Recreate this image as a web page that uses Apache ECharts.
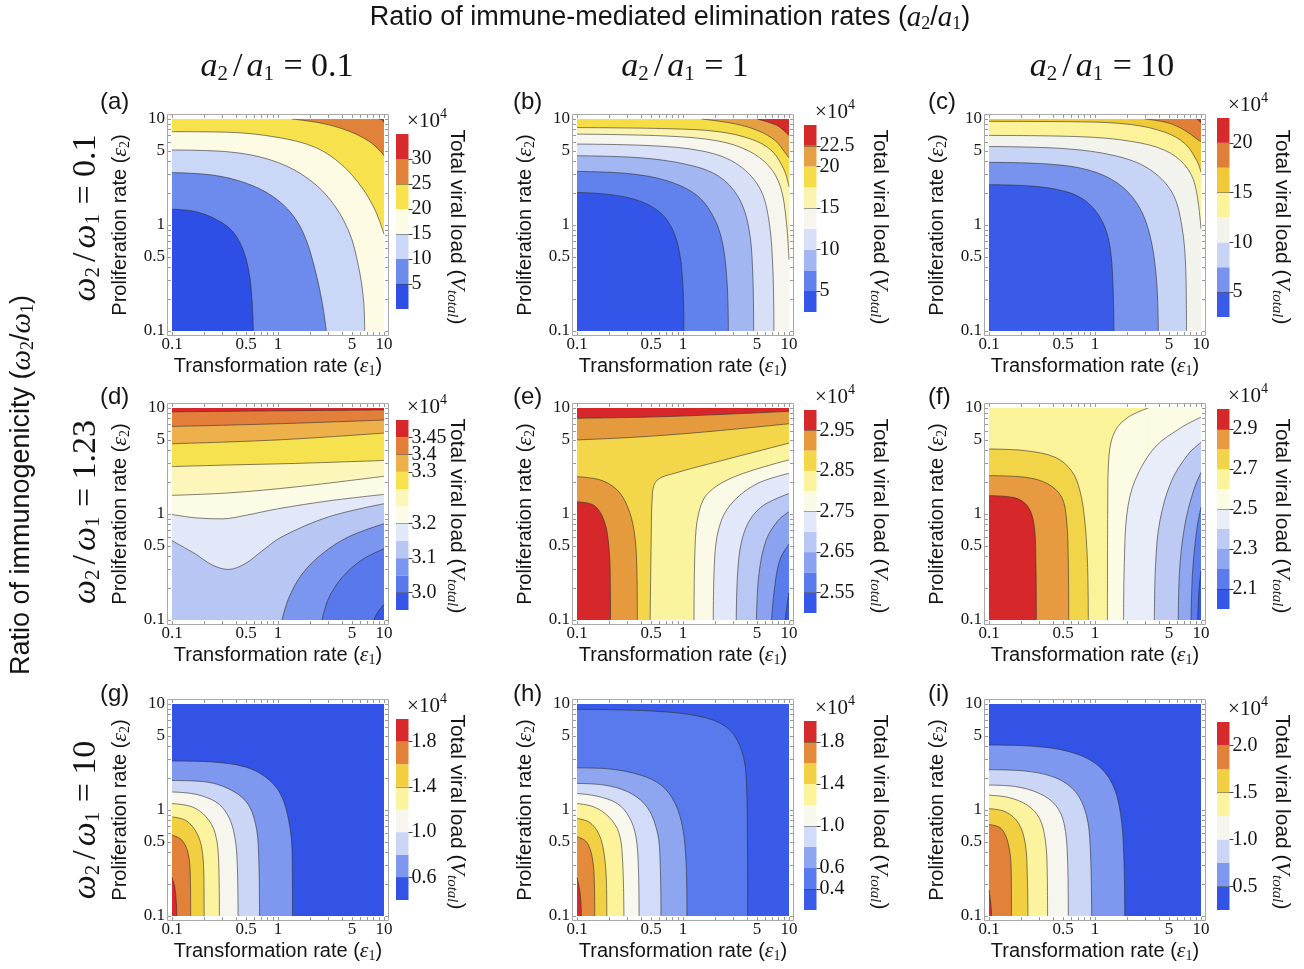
<!DOCTYPE html>
<html>
<head>
<meta charset="utf-8">
<script src="https://cdn.jsdelivr.net/npm/echarts@6/dist/echarts.min.js"></script>
<style>
html,body{margin:0;padding:0;background:#fff;}
#chart{width:1304px;height:969px;}
</style>
</head>
<body>
<div id="chart"></div>
<script>
// ticks of the log axes (both axes run 0.1 .. 10)
var majorTicks = [0.1, 0.5, 1, 5, 10];
var minorTicks = [0.1,0.2,0.3,0.4,0.5,0.6,0.7,0.8,0.9,1,2,3,4,5,6,7,8,9,10];

// contour entries: [level index, 'lo' (paints band under the level) / 'hi' (band over it),
//                   fill direction, points [eps1, eps2], optional corner points for fill only]

// (a) a2/a1 = 0.1, w2/w1 = 0.1
var levelsA = [5, 10, 15, 20, 25, 30];
var cbLabelsA = ['5', '10', '15', '20', '25', '30'];
var contoursA = [
    [0, 'lo', 'down', [[0.1,1.41],[0.166,1.34],[0.26,1.13],[0.37,0.88],[0.46,0.61],[0.53,0.37],[0.57,0.19],[0.585,0.1]]],
    [1, 'lo', 'down', [[0.1,3.12],[0.24,2.96],[0.49,2.5],[0.88,1.88],[1.36,1.26],[1.81,0.76],[2.25,0.37],[2.6,0.19],[2.86,0.1]]],
    [2, 'lo', 'down', [[0.1,5.1],[0.34,4.9],[0.82,4.16],[1.68,3.0],[3.0,1.81],[4.64,0.88],[5.77,0.4],[6.43,0.19],[6.57,0.1]]],
    [3, 'lo', 'down', [[0.1,7.6],[0.34,7.5],[1.0,6.7],[2.25,5.4],[4.0,3.7],[6.2,2.25],[8.3,1.36],[10,0.82]]],
    [4, 'hi', 'up', [[1.36,10],[2.6,9.1],[4.64,7.7],[7.16,6.2],[9.2,5.0],[10,4.5]]],
    [5, 'hi', 'up', [[9.0,10],[9.6,9.8],[10,9.3]]]
];

// (b) a2/a1 = 1, w2/w1 = 0.1
var levelsB = [5, 7.5, 10, 12.5, 15, 17.5, 20, 22.5];
var cbLabelsB = ['5', '10', '15', '20', '22.5'];
var contoursB = [
    [0, 'lo', 'down', [[0.1,2.03],[0.21,1.93],[0.4,1.67],[0.62,1.29],[0.8,0.9],[0.93,0.54],[1.0,0.26],[1.02,0.1]]],
    [1, 'lo', 'down', [[0.1,3.2],[0.3,3.06],[0.72,2.6],[1.39,1.86],[2.0,1.12],[2.4,0.62],[2.62,0.26],[2.68,0.1]]],
    [2, 'lo', 'down', [[0.1,4.5],[0.4,4.3],[1.12,3.7],[2.15,2.9],[3.3,1.86],[4.16,0.96],[4.54,0.37],[4.64,0.1]]],
    [3, 'lo', 'down', [[0.1,5.8],[0.5,5.6],[1.5,5.0],[3.1,3.86],[5.2,2.3],[6.45,1.12],[7.05,0.37],[7.2,0.1]]],
    [4, 'lo', 'down', [[0.1,7.2],[0.72,6.9],[2.15,6.2],[4.16,5.0],[6.45,3.6],[8.3,2.3],[9.4,1.12],[10,0.47]]],
    [5, 'lo', 'down', [[0.1,8.3],[0.72,8.1],[2.15,7.6],[4.5,6.4],[6.9,5.0],[9.0,3.3],[10,2.3]]],
    [6, 'hi', 'up', [[1.5,10],[3.1,9.0],[5.2,7.7],[7.5,6.2],[9.2,4.8],[10,4.3]]],
    [7, 'hi', 'up', [[5.0,10],[6.45,9.3],[8.0,8.5],[10,7.0]]]
];

// (c) a2/a1 = 10, w2/w1 = 0.1
var levelsC = [5, 7.5, 10, 12.5, 15, 17.5, 20];
var cbLabelsC = ['5', '10', '15', '20'];
var contoursC = [
    [0, 'lo', 'down', [[0.1,2.4],[0.25,2.33],[0.52,2.08],[0.8,1.71],[1.11,1.19],[1.34,0.74],[1.46,0.36],[1.51,0.1]]],
    [1, 'lo', 'down', [[0.1,3.9],[0.36,3.76],[0.87,3.3],[1.66,2.45],[2.56,1.53],[3.3,0.8],[3.8,0.31],[3.96,0.1]]],
    [2, 'lo', 'down', [[0.1,5.5],[0.52,5.25],[1.55,4.5],[3.2,3.4],[5.3,2.05],[6.57,1.0],[7.2,0.36],[7.3,0.1]]],
    [3, 'lo', 'down', [[0.1,7.0],[0.75,6.8],[2.2,6.15],[4.57,5.06],[7.06,3.66],[8.8,2.37],[10,0.92]]],
    [4, 'lo', 'down', [[0.1,9.5],[0.75,9.4],[2.2,8.85],[4.57,7.5],[7.06,5.85],[9.1,4.07],[10,3.16]]],
    [5, 'hi', 'up', [[2.96,10],[4.9,9.2],[7.06,7.8],[9.1,6.5],[10,6.1]]],
    [6, 'hi', 'up', [[9.1,10],[9.5,9.7],[10,9.2]]]
];

// (d) a2/a1 = 0.1, w2/w1 = 1.23
var levelsD = [3.0, 3.05, 3.1, 3.15, 3.2, 3.23, 3.27, 3.3, 3.4, 3.45];
var cbLabelsD = ['3.0', '3.1', '3.2', '3.3', '3.4', '3.45'];
var contoursD = [
    [0, 'lo', 'down', [[8.0,0.1],[8.8,0.12],[10,0.14]]],
    [1, 'lo', 'down', [[2.6,0.1],[3.0,0.16],[4.0,0.25],[6.2,0.37],[10,0.47]]],
    [2, 'lo', 'down', [[1.09,0.1],[1.26,0.16],[1.68,0.27],[2.6,0.42],[4.64,0.61],[10,0.81]]],
    [3, 'lo', 'down', [[0.1,0.56],[0.166,0.42],[0.24,0.33],[0.34,0.3],[0.49,0.34],[0.71,0.45],[1.09,0.61],[3.0,0.94],[10,1.25]]],
    [4, 'lo', 'down', [[0.1,0.99],[0.166,0.92],[0.3,0.9],[0.49,0.97],[1.0,1.12],[3.0,1.33],[10,1.53]]],
    [5, 'lo', 'down', [[0.1,1.5],[0.34,1.58],[1.46,1.8],[10,2.27]]],
    [6, 'lo', 'down', [[0.1,2.8],[0.34,2.9],[1.46,3.0],[10,3.2]]],
    [7, 'lo', 'down', [[0.1,4.6],[1.0,5.0],[10,5.8]]],
    [8, 'lo', 'down', [[0.1,6.7],[1.0,7.1],[10,7.7]]],
    [9, 'lo', 'down', [[0.1,9.2],[1.0,9.4],[10,9.6]]]
];

// (e) a2/a1 = 1, w2/w1 = 1.23
var levelsE = [2.55, 2.6, 2.65, 2.7, 2.75, 2.8, 2.85, 2.9, 2.95];
var cbLabelsE = ['2.55', '2.65', '2.75', '2.85', '2.95'];
var contoursE = [
    [7, 'hi', 'up', [[0.1,5.0],[0.35,5.3],[1.48,5.9],[10,7.1]]],
    [7, 'hi', 'down', [[0.1,2.25],[0.167,2.09],[0.24,1.68],[0.3,1.17],[0.345,0.7],[0.366,0.34],[0.371,0.1]]],
    [8, 'hi', 'up', [[0.1,8.0],[0.72,8.3],[10,9.3]]],
    [8, 'hi', 'down', [[0.1,1.3],[0.144,1.21],[0.18,0.87],[0.2,0.49],[0.206,0.24],[0.207,0.1]]],
    [6, 'lo', 'down', [[0.49,0.1],[0.5,0.49],[0.515,1.56],[0.57,2.09],[0.83,2.42],[2.13,3.12],[10,4.66]]],
    [5, 'lo', 'down', [[1.27,0.1],[1.3,0.49],[1.4,1.0],[1.71,1.56],[3.07,2.25],[10,3.24]]],
    [4, 'lo', 'down', [[1.93,0.1],[2.0,0.42],[2.3,0.87],[3.07,1.35],[5.1,1.95],[10,2.42]]],
    [3, 'lo', 'down', [[3.18,0.1],[3.35,0.37],[3.96,0.76],[5.5,1.17],[10,1.56]]],
    [2, 'lo', 'down', [[4.93,0.1],[5.2,0.27],[6.1,0.57],[7.9,0.87],[10,1.05]]],
    [1, 'lo', 'down', [[6.84,0.1],[7.3,0.2],[8.2,0.37],[10,0.52]]],
    [0, 'lo', 'down', [[9.2,0.1],[9.6,0.14],[10,0.18]]]
];

// (f) a2/a1 = 10, w2/w1 = 1.23
var levelsF = [2.1, 2.2, 2.3, 2.4, 2.5, 2.6, 2.7, 2.8, 2.9];
var cbLabelsF = ['2.1', '2.3', '2.5', '2.7', '2.9'];
var contoursF = [
    [6, 'hi', 'down', [[0.1,4.1],[0.22,3.96],[0.42,3.43],[0.6,2.56],[0.72,1.66],[0.8,0.87],[0.85,0.34],[0.865,0.1]]],
    [7, 'hi', 'down', [[0.1,2.3],[0.22,2.22],[0.36,1.92],[0.485,1.44],[0.54,0.87],[0.56,0.34],[0.565,0.1]]],
    [8, 'hi', 'down', [[0.1,1.49],[0.176,1.42],[0.235,1.16],[0.268,0.75],[0.277,0.34],[0.28,0.1]]],
    [5, 'lo', 'down', [[1.31,0.1],[1.32,1.44],[1.36,3.68],[1.55,6.1],[2.06,8.2],[3.18,10]], [[10,10]]],
    [4, 'lo', 'down', [[1.86,0.1],[1.89,0.34],[2.0,1.0],[2.38,2.06],[3.68,4.26],[6.57,6.57],[10,8.2]]],
    [3, 'lo', 'down', [[3.63,0.1],[3.73,0.34],[4.1,0.87],[5.28,2.06],[7.6,3.68],[10,4.74]]],
    [2, 'lo', 'down', [[6.1,0.1],[6.3,0.31],[7.06,0.8],[8.5,1.66],[10,2.47]]],
    [1, 'lo', 'down', [[8.05,0.1],[8.3,0.27],[9.1,0.7],[10,1.16]]],
    [0, 'lo', 'down', [[9.3,0.1],[9.6,0.2],[10,0.29]]]
];

// (g) a2/a1 = 0.1, w2/w1 = 10
var levelsG = [0.6, 0.8, 1.0, 1.2, 1.4, 1.6, 1.8];
var cbLabelsG = ['0.6', '1.0', '1.4', '1.8'];
var contoursG = [
    [0, 'hi', 'down', [[0.1,2.9],[0.24,2.84],[0.49,2.55],[0.76,2.05],[1.05,1.43],[1.26,0.8],[1.36,0.39],[1.37,0.1]]],
    [1, 'hi', 'down', [[0.1,1.9],[0.21,1.84],[0.34,1.59],[0.49,1.23],[0.59,0.86],[0.65,0.48],[0.67,0.1]]],
    [2, 'hi', 'down', [[0.1,1.48],[0.166,1.41],[0.26,1.19],[0.33,0.92],[0.38,0.64],[0.41,0.36],[0.42,0.1]]],
    [3, 'hi', 'down', [[0.1,1.15],[0.155,1.07],[0.21,0.86],[0.256,0.6],[0.276,0.31],[0.28,0.1]]],
    [4, 'hi', 'down', [[0.1,0.86],[0.134,0.8],[0.166,0.64],[0.19,0.45],[0.2,0.23],[0.201,0.1]]],
    [5, 'hi', 'down', [[0.1,0.58],[0.124,0.52],[0.142,0.39],[0.149,0.23],[0.15,0.1]]],
    [6, 'hi', 'down', [[0.1,0.23],[0.106,0.19],[0.11,0.13],[0.111,0.1]]]
];

// (h) a2/a1 = 1, w2/w1 = 10
var levelsH = [0.4, 0.6, 0.8, 1.0, 1.2, 1.4, 1.6, 1.8];
var cbLabelsH = ['0.4', '0.6', '1.0', '1.4', '1.8'];
var contoursH = [
    [0, 'hi', 'down', [[0.1,8.9],[0.5,8.6],[1.48,7.6],[2.65,5.9],[3.56,3.67],[3.96,1.91],[4.05,0.56],[4.08,0.1]]],
    [1, 'hi', 'down', [[0.1,2.5],[0.21,2.43],[0.4,2.13],[0.62,1.72],[0.83,1.19],[0.99,0.69],[1.07,0.31],[1.09,0.1]]],
    [2, 'hi', 'down', [[0.1,1.78],[0.18,1.72],[0.3,1.49],[0.43,1.15],[0.53,0.8],[0.6,0.45],[0.62,0.1]]],
    [3, 'hi', 'down', [[0.1,1.43],[0.155,1.35],[0.24,1.15],[0.31,0.86],[0.36,0.56],[0.38,0.27],[0.385,0.1]]],
    [4, 'hi', 'down', [[0.1,1.15],[0.144,1.07],[0.2,0.86],[0.25,0.6],[0.27,0.31],[0.277,0.1]]],
    [5, 'hi', 'down', [[0.1,0.83],[0.13,0.77],[0.16,0.6],[0.18,0.39],[0.19,0.19],[0.191,0.1]]],
    [6, 'hi', 'down', [[0.1,0.56],[0.123,0.5],[0.139,0.36],[0.146,0.2],[0.147,0.1]]],
    [7, 'hi', 'down', [[0.1,0.23],[0.106,0.175],[0.109,0.13],[0.11,0.1]]]
];

// (i) a2/a1 = 10, w2/w1 = 10
var levelsI = [0.5, 0.75, 1.0, 1.25, 1.5, 1.75, 2.0];
var cbLabelsI = ['0.5', '1.0', '1.5', '2.0'];
var contoursI = [
    [0, 'hi', 'down', [[0.1,4.1],[0.256,4.0],[0.57,3.55],[1.01,2.75],[1.45,1.78],[1.74,0.93],[1.87,0.36],[1.91,0.1]]],
    [1, 'hi', 'down', [[0.1,2.4],[0.21,2.34],[0.4,2.06],[0.61,1.6],[0.785,1.07],[0.89,0.56],[0.93,0.1]]],
    [2, 'hi', 'down', [[0.1,1.72],[0.18,1.66],[0.3,1.43],[0.425,1.11],[0.51,0.75],[0.55,0.36],[0.56,0.1]]],
    [3, 'hi', 'down', [[0.1,1.38],[0.154,1.31],[0.23,1.11],[0.3,0.83],[0.34,0.52],[0.354,0.27],[0.357,0.1]]],
    [4, 'hi', 'down', [[0.1,1.03],[0.144,0.96],[0.19,0.75],[0.22,0.48],[0.23,0.23],[0.233,0.1]]],
    [5, 'hi', 'down', [[0.1,0.73],[0.13,0.67],[0.152,0.48],[0.162,0.27],[0.163,0.1]]],
    [6, 'hi', 'down', [[0.1,0.175],[0.104,0.13],[0.106,0.1]]]
];

var colTitles = ['0.1', '1', '10'];
var rowTitles = ['0.1', '1.23', '10'];
var tags = ['(a)','(b)','(c)','(d)','(e)','(f)','(g)','(h)','(i)'];

// band colours, lowest band first
var colorsA = ['#2e4fe6','#6d8bec','#cbd7f6','#fdfbe3','#f7e24e','#e1823a','#d62a2c'];
var colorsB = ['#3355e8','#6182ec','#a2b6f2','#d8e0f8','#f6f6ef','#fbf3b0','#f5dd47','#e5a043','#d62a2a'];
var colorsC = ['#3a5be7','#7893ed','#c8d4f5','#f3f3ee','#fcf29a','#f0c838','#e08038','#d62a2c'];
var colorsD = ['#3556e7','#5878eb','#7a96ee','#b8c6f3','#e2e8f8','#fcfbe6','#fcf6ba','#f6e24e','#eeb04a','#e37f3a','#d6282b'];
var colorsE = ['#3558e8','#5a7bec','#8aa2ef','#b9c7f4','#e2e8f9','#fbfae6','#fbf49e','#f4d64a','#e59a3e','#d6282b'];
var colorsF = ['#3557e8','#5b7cec','#8fa6f0','#bccaf4','#e8edf9','#fcfbe4','#fbf39a','#f2d448','#e79a40','#d6282b'];
var colorsG = ['#3353e7','#7d98ee','#cbd6f6','#f6f6ee','#fcf39e','#f1cf40','#e2823a','#d62a2c'];
var colorsH = ['#3a5ae8','#587aec','#8ea5f0','#d2dbf7','#f8f8ee','#fcf39a','#f1d044','#e38a3b','#d62a2c'];
var colorsI = ['#3353e7','#7d98ee','#cbd6f6','#f6f6ee','#fcf39e','#f1cf40','#e2823a','#d62a2c'];

var panels = [
    {levels: levelsA, labels: cbLabelsA, contours: contoursA, colors: colorsA},
    {levels: levelsB, labels: cbLabelsB, contours: contoursB, colors: colorsB},
    {levels: levelsC, labels: cbLabelsC, contours: contoursC, colors: colorsC},
    {levels: levelsD, labels: cbLabelsD, contours: contoursD, colors: colorsD},
    {levels: levelsE, labels: cbLabelsE, contours: contoursE, colors: colorsE},
    {levels: levelsF, labels: cbLabelsF, contours: contoursF, colors: colorsF},
    {levels: levelsG, labels: cbLabelsG, contours: contoursG, colors: colorsG},
    {levels: levelsH, labels: cbLabelsH, contours: contoursH, colors: colorsH},
    {levels: levelsI, labels: cbLabelsI, contours: contoursI, colors: colorsI}
];

// layout (pixels)
var colLeft = [172, 577, 989];
var rowTop = [119, 408, 704];
var plotW = 212, plotH = 212;
var cbLeft = [396, 804, 1217];
var cbSpan = [[134,309],[125,312],[118,317],[420,610],[410,613],[409,609],[719,900],[721,910],[722,910]];
var cbTitleX = [457, 880, 1282];
var tagLeft = [100, 513, 928];
var tagMid = [102, 397, 694];
var colTitleX = [277, 685, 1102];
var rowTitleY = [218, 512, 820];

var SANS = 'Liberation Sans', SERIF = 'Liberation Serif', INK = '#141414';

function lg(v) { return Math.max(-1, Math.min(1, Math.log10(v))); }
var majorLog = majorTicks.map(lg);
var minorLog = minorTicks.map(lg);
function fmtTick(v) { return String(parseFloat(Math.pow(10, v).toPrecision(2))); }

function richAxis(size) {
    return {
        t: {fontFamily: SANS, fontSize: size, color: INK},
        e: {fontFamily: SERIF, fontStyle: 'italic', fontSize: size + 2, color: INK},
        s: {fontFamily: SERIF, fontSize: Math.round(size * 0.68), color: INK, padding: [Math.round(size * 0.5), 0, 0, 0]}
    };
}

function dataXAxis(gi, pos, main) {
    return {
        type: 'value', gridIndex: gi, position: pos, min: -1, max: 1, offset: 4,
        axisLine: {show: false, onZero: false}, splitLine: {show: false},
        axisTick: {show: true, inside: true, length: 3, customValues: minorLog, lineStyle: {color: '#999', width: 1}},
        axisLabel: main ? {show: true, customValues: majorLog, formatter: fmtTick, margin: 1,
            showMinLabel: true, showMaxLabel: true,
            fontFamily: SERIF, fontSize: 17, color: INK} : {show: false},
        name: main ? '{t|Transformation rate (}{e|ε}{s|1}{t|)}' : '',
        nameLocation: 'middle', nameGap: 19, nameTextStyle: {rich: richAxis(20)}
    };
}
function dataYAxis(gi, pos, main) {
    return {
        type: 'value', gridIndex: gi, position: pos, min: -1, max: 1, offset: 4,
        axisLine: {show: false, onZero: false}, splitLine: {show: false},
        axisTick: {show: true, inside: true, length: 3, customValues: minorLog, lineStyle: {color: '#999', width: 1}},
        axisLabel: main ? {show: true, customValues: majorLog, formatter: fmtTick, margin: 3,
            showMinLabel: true, showMaxLabel: true,
            fontFamily: SERIF, fontSize: 17, color: INK} : {show: false},
        name: main ? '{t|Proliferation rate (}{e|ε}{s|2}{t|)}' : '',
        nameLocation: 'middle', nameGap: 36, nameTextStyle: {rich: richAxis(20)}
    };
}

var grids = [], xAxes = [], yAxes = [], series = [], elements = [];

panels.forEach(function (pd, p) {
    var c = p % 3, r = Math.floor(p / 3);
    var L = colLeft[c], T = rowTop[r];

    // painter order: base band fills the grid, then sub-level / super-level regions outward
    var his = pd.contours.filter(function (k) { return k[1] === 'hi'; }).map(function (k) { return k[0]; });
    var los = pd.contours.filter(function (k) { return k[1] === 'lo'; }).map(function (k) { return k[0]; });
    var base = his.length ? Math.min.apply(null, his) : Math.max.apply(null, los) + 1;
    function bandOf(k) { return k[1] === 'hi' ? k[0] + 1 : k[0]; }

    var gi = grids.length;
    grids.push({left: L, top: T, width: plotW, height: plotH, show: true,
        backgroundColor: pd.colors[base], borderWidth: 0});
    var xi = xAxes.length;
    xAxes.push(dataXAxis(gi, 'bottom', true), dataXAxis(gi, 'top', false));
    var yi = yAxes.length;
    yAxes.push(dataYAxis(gi, 'left', true), dataYAxis(gi, 'right', false));

    var order = pd.contours.slice().sort(function (a, b) {
        return Math.abs(bandOf(a) - base) - Math.abs(bandOf(b) - base);
    });
    order.forEach(function (k) {
        var band = bandOf(k);
        var pts = k[3].map(function (q) { return [lg(q[0]), lg(q[1])]; });
        var area = {color: pd.colors[band], opacity: 1, origin: k[2] === 'down' ? 'start' : 'end'};
        if (k[4]) {
            series.push({type: 'line', xAxisIndex: xi, yAxisIndex: yi, silent: true, symbol: 'none',
                data: [pts[pts.length - 1]].concat(k[4].map(function (q) { return [lg(q[0]), lg(q[1])]; })),
                lineStyle: {width: 0, opacity: 0}, areaStyle: area});
        }
        series.push({type: 'line', xAxisIndex: xi, yAxisIndex: yi, silent: true, symbol: 'none',
            smooth: 0.35, data: pts,
            lineStyle: {color: 'rgba(45,45,45,0.75)', width: 0.8}, areaStyle: area});
    });

    // frame around the plot
    elements.push({type: 'rect', silent: true, z: 50,
        shape: {x: L - 4.5, y: T - 4.5, width: plotW + 9, height: plotH + 9},
        style: {fill: 'none', stroke: '#a9a9a9', lineWidth: 1}});

    // colour bar: equal-height bands, labels at chosen level boundaries
    var cb = cbSpan[p];
    var nB = pd.levels.length + 1;
    var labIdx = pd.labels.map(function (s) { return pd.levels.indexOf(parseFloat(s)) + 1; });
    var cgi = grids.length;
    grids.push({left: cbLeft[c], top: cb[0], width: 12.5, height: cb[1] - cb[0]});
    var cxi = xAxes.length;
    xAxes.push({type: 'category', gridIndex: cgi, data: ['v'], show: false});
    var cyi = yAxes.length;
    // labels alternate between two coincident axes so close neighbours are never dropped
    [0, 1].forEach(function (half) {
        var vals = labIdx.filter(function (v, i) { return i % 2 === half; });
        yAxes.push({type: 'value', gridIndex: cgi, position: 'right', offset: 0, min: 0, max: nB, interval: 1, z: 5,
            axisLine: {show: false, onZero: false},
            splitLine: {show: half === 0, lineStyle: {color: 'rgba(50,50,50,0.45)', width: 1}},
            axisTick: {show: true, customValues: vals, length: 4, lineStyle: {color: '#444'}},
            axisLabel: {show: true, customValues: vals, margin: 3, hideOverlap: false,
                showMinLabel: true, showMaxLabel: true,
                fontFamily: SERIF, fontSize: 20, color: INK,
                formatter: function (v) { return pd.labels[labIdx.indexOf(Math.round(v))]; }}
        });
    });
    for (var b = 0; b < nB; b++) {
        series.push({type: 'bar', xAxisIndex: cxi, yAxisIndex: cyi, stack: 'cb' + p, silent: true,
            barWidth: '100%', data: [1], itemStyle: {color: pd.colors[b]}});
    }

    elements.push({type: 'text', x: cbLeft[c] + 31, y: cb[0] - 13, silent: true,
        style: {text: '{t|×10}{p|4}', align: 'center', verticalAlign: 'middle',
            rich: {t: {fontFamily: SERIF, fontSize: 21, fill: INK},
                   p: {fontFamily: SERIF, fontSize: 14, fill: INK, padding: [0, 0, 13, 0]}}}});
    elements.push({type: 'text', x: cbTitleX[c], y: T + plotH / 2 + 2, rotation: -Math.PI / 2, silent: true,
        style: {text: '{t|Total viral load (}{v|V}{s|total}{t|)}', align: 'center', verticalAlign: 'middle',
            rich: {t: {fontFamily: SANS, fontSize: 21, fill: INK},
                   v: {fontFamily: SERIF, fontStyle: 'italic', fontSize: 22, fill: INK},
                   s: {fontFamily: SERIF, fontStyle: 'italic', fontSize: 15, fill: INK, padding: [10, 0, 0, 0]}}}});
    elements.push({type: 'text', x: tagLeft[c], y: tagMid[r], silent: true,
        style: {text: tags[p], align: 'left', verticalAlign: 'middle', fontFamily: SANS, fontSize: 24, fill: INK}});
});

var richMath = {
    v: {fontFamily: SERIF, fontStyle: 'italic', fontSize: 34, fill: INK},
    n: {fontFamily: SERIF, fontSize: 34, fill: INK},
    d: {fontFamily: SERIF, fontSize: 34, fill: INK, padding: [0, 4, 0, 4]},
    s: {fontFamily: SERIF, fontSize: 21, fill: INK, padding: [15, 1, 0, 0]}
};
colTitles.forEach(function (t, c) {
    elements.push({type: 'text', x: colTitleX[c], y: 67, silent: true,
        style: {text: '{v|a}{s|2}{d|/}{v|a}{s|1}{n| = ' + t + '}', align: 'center', verticalAlign: 'middle', rich: richMath}});
});
rowTitles.forEach(function (t, r) {
    elements.push({type: 'text', x: 86, y: rowTitleY[r], rotation: Math.PI / 2, silent: true,
        style: {text: '{v|ω}{s|2}{d|/}{v|ω}{s|1}{n| = ' + t + '}', align: 'center', verticalAlign: 'middle', rich: richMath}});
});
var richTitle = {
    t: {fontFamily: SANS, fontSize: 27, fill: INK},
    v: {fontFamily: SERIF, fontStyle: 'italic', fontSize: 29, fill: INK},
    s: {fontFamily: SERIF, fontSize: 18, fill: INK, padding: [13, 0, 0, 0]}
};
elements.push({type: 'text', x: 670, y: 18, silent: true,
    style: {text: '{t|Ratio of immune-mediated elimination rates (}{v|a}{s|2}{t|/}{v|a}{s|1}{t|)}',
        align: 'center', verticalAlign: 'middle', rich: richTitle}});
elements.push({type: 'text', x: 22, y: 485, rotation: Math.PI / 2, silent: true,
    style: {text: '{t|Ratio of immunogenicity (}{v|ω}{s|2}{t|/}{v|ω}{s|1}{t|)}',
        align: 'center', verticalAlign: 'middle', rich: richTitle}});

var myChart = echarts.init(document.getElementById('chart'));
myChart.setOption({
    animation: false,
    backgroundColor: '#fff',
    textStyle: {fontFamily: SANS},
    grid: grids,
    xAxis: xAxes,
    yAxis: yAxes,
    series: series,
    graphic: {elements: elements}
});
</script>
</body>
</html>
